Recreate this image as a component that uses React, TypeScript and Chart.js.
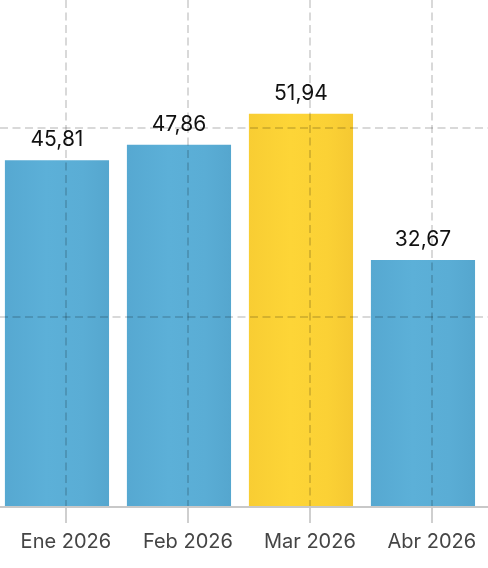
import React, { useEffect, useRef } from "react";
import { Chart, registerables } from "chart.js";

Chart.register(...registerables);

const categories: string[] = ["Ene 2026", "Feb 2026", "Mar 2026", "Abr 2026"];
const values: number[] = [45.81, 47.86, 51.94, 32.67];
const highlightIndex = 2;
const yTickValues: number[] = [25, 50];
const yMax = 66.8;
// position of the category ticks relative to the bar centres (in category units)
const tickShift = 0.073;
const xMin = -0.467;
const xMax = 3.533;

const blueStops = ["#56a8d1", "#5cb0d8", "#5aadd5", "#55a6ce"];
const yellowStops = ["#f8cd33", "#fdd537", "#fbd135", "#f5c832"];

const dataLabelPlugin = {
  id: "dataLabels",
  afterDatasetsDraw(chart: any) {
    const { ctx } = chart;
    const meta = chart.getDatasetMeta(0);
    ctx.save();
    ctx.font = "21px Inter";
    ctx.fillStyle = "#111111";
    ctx.textAlign = "center";
    ctx.textBaseline = "alphabetic";
    meta.data.forEach((el: any, i: number) => {
      const txt = values[i].toFixed(2).replace(".", ",");
      ctx.fillText(txt, el.x, el.y - 13);
    });
    ctx.restore();
  },
};

export default function App() {
  const canvasRef = useRef<HTMLCanvasElement | null>(null);

  useEffect(() => {
    document.body.style.margin = "0";
    Chart.defaults.font.family = "Inter";
    const canvas = canvasRef.current;
    if (!canvas) return;

    const makeBg = (c: any) => {
      const idx = c.dataIndex;
      const stops = idx === highlightIndex ? yellowStops : blueStops;
      if (c.type !== "data") return stops[2];
      const chart = c.chart;
      const x = chart.scales && chart.scales.x;
      if (!chart.chartArea || !x) return stops[2];
      const cx = x.getPixelForValue(idx);
      const half = (x.getPixelForValue(1) - x.getPixelForValue(0)) * 0.87 / 2;
      const g = chart.ctx.createLinearGradient(cx - half, 0, cx + half, 0);
      g.addColorStop(0, stops[0]);
      g.addColorStop(0.4, stops[1]);
      g.addColorStop(0.75, stops[2]);
      g.addColorStop(1, stops[3]);
      return g;
    };

    const chart = new Chart(canvas, {
      type: "bar",
      data: {
        datasets: [
          {
            data: values.map((v, i) => ({ x: i, y: v })),
            backgroundColor: makeBg,
            borderColor: "rgba(255,255,255,0.35)",
            borderWidth: 1,
            categoryPercentage: 1,
            barPercentage: 0.87,
          },
        ],
      },
      options: {
        animation: false,
        responsive: true,
        maintainAspectRatio: false,
        layout: { padding: { left: 0, right: 0, top: 0, bottom: 7 } },
        plugins: {
          legend: { display: false },
          tooltip: { enabled: false },
        },
        scales: {
          x: {
            type: "linear",
            min: xMin,
            max: xMax,
            offset: false,
            afterBuildTicks: (scale: any) => {
              scale.ticks = categories.map((_, i) => ({ value: i + tickShift }));
            },
            ticks: {
              callback: (_v: any, i: number) => categories[i],
              color: "#454545",
              font: { size: 20 },
              padding: 7,
              maxRotation: 0,
              autoSkip: false,
            },
            grid: {
              offset: false,
              z: 1,
              color: "rgba(0,0,0,0.15)",
              lineWidth: 2,
              tickLength: 16,
              tickColor: "#cfcfcf",
              tickWidth: 2,
            },
            border: { display: true, z: 1, color: "#c8c8c8", width: 2, dash: [8, 4.5] },
          },
          y: {
            min: 0,
            max: yMax,
            afterBuildTicks: (scale: any) => {
              scale.ticks = yTickValues.map((v) => ({ value: v }));
            },
            ticks: { display: false },
            grid: {
              z: 1,
              color: "rgba(0,0,0,0.15)",
              lineWidth: 2,
              drawTicks: false,
            },
            border: { display: false, dash: [8, 4.5] },
          },
        },
      },
      plugins: [dataLabelPlugin],
    });

    return () => chart.destroy();
  }, []);

  return (
    <div style={{ position: "relative", width: "488px", height: "568px" }}>
      <canvas ref={canvasRef} />
    </div>
  );
}
